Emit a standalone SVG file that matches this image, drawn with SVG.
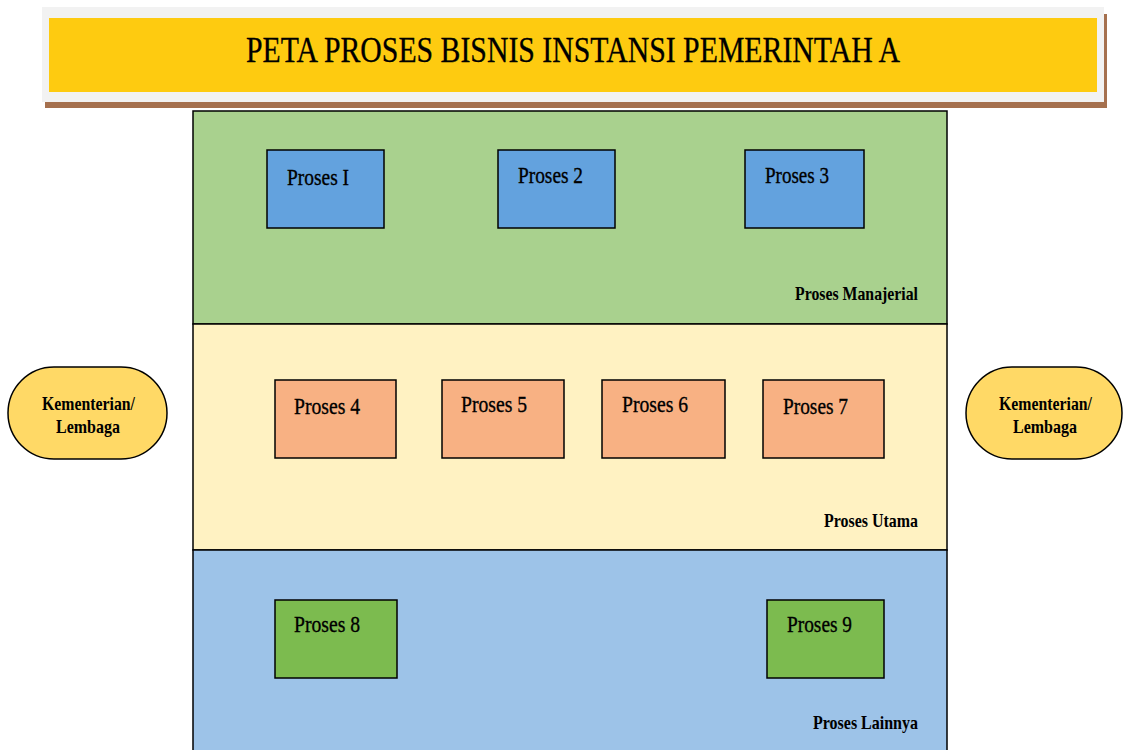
<svg xmlns="http://www.w3.org/2000/svg" width="1123" height="750" viewBox="0 0 1123 750">
<style>
text{font-family:"Liberation Serif","Times New Roman",serif;fill:#000}
.node{stroke:#000;stroke-width:1.5}
.lbl{font-size:24px;stroke:#000;stroke-width:0.35}
.sec{font-size:19px;font-weight:bold}
.ov{font-size:19px;font-weight:bold}
.band{stroke:#000;stroke-width:1.5}
</style>
<rect width="1123" height="750" fill="#fff"/>
<g id="title">
<rect x="45" y="14" width="1062" height="94" fill="#a5704e"/>
<rect x="42" y="7" width="1062" height="95" fill="#f2f2f2"/>
<rect x="49" y="18" width="1048" height="74" fill="#fecb10"/>
<text x="246" y="62" font-size="36" textLength="654" lengthAdjust="spacingAndGlyphs" stroke="#000" stroke-width="0.3">PETA PROSES BISNIS INSTANSI PEMERINTAH A</text>
</g>
<g id="band-manajerial">
<rect class="band" x="193" y="111" width="754" height="213" fill="#a9d18e"/>
<text class="sec" x="795" y="300" textLength="123" lengthAdjust="spacingAndGlyphs">Proses Manajerial</text>
</g>
<g id="band-utama">
<rect class="band" x="193" y="324" width="754" height="226" fill="#fff2c2"/>
<text class="sec" x="824" y="527" textLength="94" lengthAdjust="spacingAndGlyphs">Proses Utama</text>
</g>
<g id="band-lainnya">
<rect class="band" x="193" y="550" width="754" height="210" fill="#9dc3e8"/>
<text class="sec" x="813" y="729" textLength="105" lengthAdjust="spacingAndGlyphs">Proses Lainnya</text>
</g>
<g id="proses1"><rect class="node" x="267" y="150" width="117" height="78" fill="#63a2de"/><text class="lbl" x="287" y="185" textLength="62" lengthAdjust="spacingAndGlyphs">Proses I</text></g>
<g id="proses2"><rect class="node" x="498" y="150" width="117" height="78" fill="#63a2de"/><text class="lbl" x="518" y="183" textLength="65" lengthAdjust="spacingAndGlyphs">Proses 2</text></g>
<g id="proses3"><rect class="node" x="745" y="150" width="119" height="78" fill="#63a2de"/><text class="lbl" x="765" y="183" textLength="64" lengthAdjust="spacingAndGlyphs">Proses 3</text></g>
<g id="proses4"><rect class="node" x="275" y="380" width="121" height="78" fill="#f8b183"/><text class="lbl" x="294" y="414" textLength="66" lengthAdjust="spacingAndGlyphs">Proses 4</text></g>
<g id="proses5"><rect class="node" x="442" y="380" width="122" height="78" fill="#f8b183"/><text class="lbl" x="461" y="412" textLength="66" lengthAdjust="spacingAndGlyphs">Proses 5</text></g>
<g id="proses6"><rect class="node" x="602" y="380" width="123" height="78" fill="#f8b183"/><text class="lbl" x="622" y="412" textLength="66" lengthAdjust="spacingAndGlyphs">Proses 6</text></g>
<g id="proses7"><rect class="node" x="763" y="380" width="121" height="78" fill="#f8b183"/><text class="lbl" x="783" y="414" textLength="65" lengthAdjust="spacingAndGlyphs">Proses 7</text></g>
<g id="proses8"><rect class="node" x="275" y="600" width="122" height="78" fill="#7cbb4f"/><text class="lbl" x="294" y="632" textLength="66" lengthAdjust="spacingAndGlyphs">Proses 8</text></g>
<g id="proses9"><rect class="node" x="767" y="600" width="117" height="78" fill="#7cbb4f"/><text class="lbl" x="787" y="632" textLength="65" lengthAdjust="spacingAndGlyphs">Proses 9</text></g>
<g id="kl-left"><rect class="node" x="8" y="367" width="159" height="92" rx="46" fill="#ffd966"/><text class="ov" x="42" y="410" textLength="93" lengthAdjust="spacingAndGlyphs">Kementerian/</text><text class="ov" x="56" y="433" textLength="64" lengthAdjust="spacingAndGlyphs">Lembaga</text></g>
<g id="kl-right"><rect class="node" x="966" y="367" width="156" height="92" rx="46" fill="#ffd966"/><text class="ov" x="999" y="410" textLength="93" lengthAdjust="spacingAndGlyphs">Kementerian/</text><text class="ov" x="1013" y="433" textLength="64" lengthAdjust="spacingAndGlyphs">Lembaga</text></g>
<g id="connectors"></g>
</svg>
